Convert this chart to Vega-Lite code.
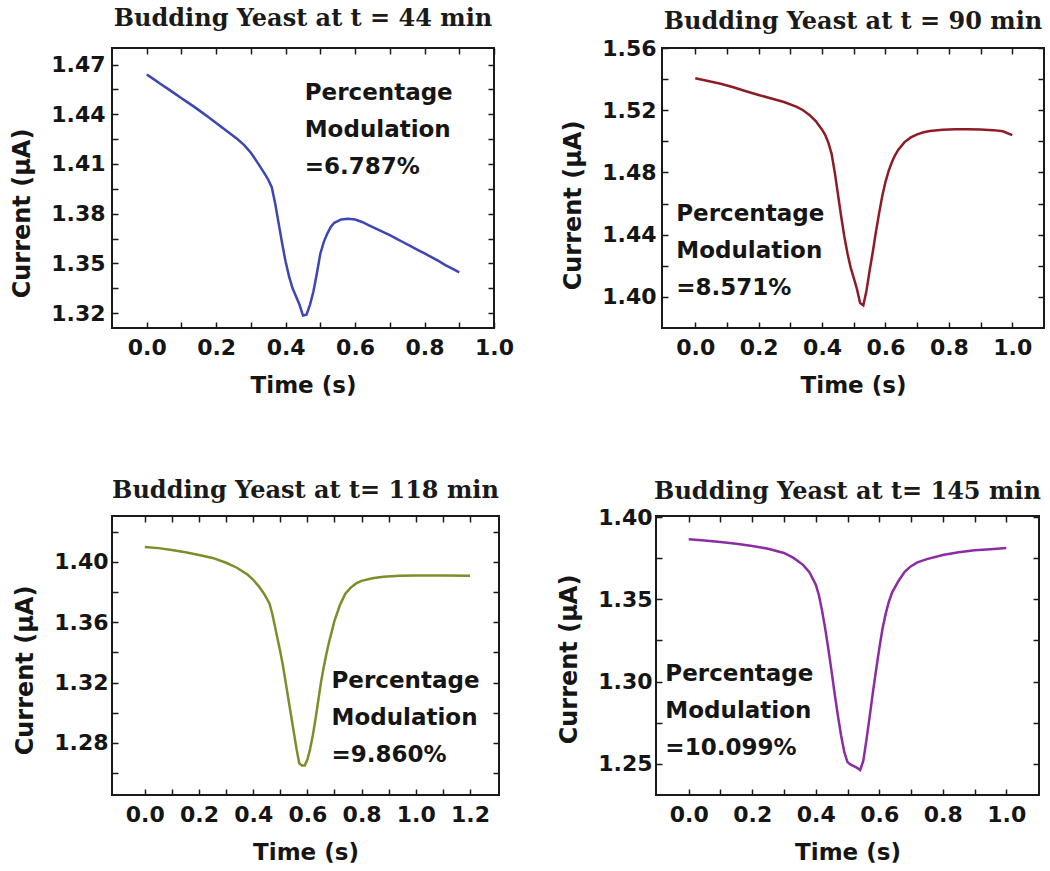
{
  "$schema": "https://vega.github.io/schema/vega-lite/v6.json",
  "background": "white",
  "padding": {"left": 9, "top": 6, "right": 5, "bottom": 5},
  "config": {
    "view": {"stroke": "#1a1a1a", "strokeWidth": 2},
    "axis": {
      "domain": false, "grid": false,
      "labelFont": "DejaVu Sans", "labelFontSize": 22, "labelFontWeight": "bold", "labelColor": "#151515",
      "titleFont": "DejaVu Sans", "titleFontSize": 24, "titleFontWeight": "bold", "titleColor": "#151515",
      "tickColor": "#1a1a1a", "tickWidth": 1.5, "tickSize": -6,
      "labelOverlap": false, "labelFlush": false
    },
    "title": {"font": "DejaVu Serif", "fontSize": 24, "fontWeight": "bold", "color": "#1a1a1a", "anchor": "middle", "frame": "group"},
    "text": {"font": "DejaVu Sans", "fontSize": 23, "fontWeight": "bold", "color": "#151515", "align": "left", "baseline": "alphabetic", "lineBreak": "\n", "lineHeight": 37}
  },
  "datasets": {
    "p44": [
      {"t":0,"i":1.4640},{"t":0.02,"i":1.4612},{"t":0.04,"i":1.4583},{"t":0.06,"i":1.4555},{"t":0.08,"i":1.4526},{"t":0.10,"i":1.4497},{"t":0.12,"i":1.4469},{"t":0.14,"i":1.4440},{"t":0.16,"i":1.4410},{"t":0.18,"i":1.4379},{"t":0.20,"i":1.4347},{"t":0.22,"i":1.4315},{"t":0.24,"i":1.4284},{"t":0.26,"i":1.4252},{"t":0.28,"i":1.4215},{"t":0.30,"i":1.4168},{"t":0.32,"i":1.4105},{"t":0.34,"i":1.4040},{"t":0.35,"i":1.4005},{"t":0.36,"i":1.3960},{"t":0.37,"i":1.3860},{"t":0.38,"i":1.3740},{"t":0.39,"i":1.3620},{"t":0.40,"i":1.3510},{"t":0.41,"i":1.3420},{"t":0.42,"i":1.3350},{"t":0.43,"i":1.3300},{"t":0.44,"i":1.3250},{"t":0.45,"i":1.3185},{"t":0.46,"i":1.3190},{"t":0.47,"i":1.3250},{"t":0.48,"i":1.3330},{"t":0.49,"i":1.3440},{"t":0.50,"i":1.3560},{"t":0.51,"i":1.3630},{"t":0.52,"i":1.3680},{"t":0.53,"i":1.3720},{"t":0.54,"i":1.3745},{"t":0.56,"i":1.3765},{"t":0.58,"i":1.3770},{"t":0.60,"i":1.3765},{"t":0.62,"i":1.3750},{"t":0.64,"i":1.3730},{"t":0.66,"i":1.3710},{"t":0.68,"i":1.3690},{"t":0.70,"i":1.3670},{"t":0.72,"i":1.3648},{"t":0.74,"i":1.3626},{"t":0.76,"i":1.3604},{"t":0.78,"i":1.3582},{"t":0.80,"i":1.3560},{"t":0.82,"i":1.3538},{"t":0.84,"i":1.3515},{"t":0.86,"i":1.3490},{"t":0.88,"i":1.3468},{"t":0.90,"i":1.3446}
    ],
    "p90": [
      {"t":0,"i":1.5405},{"t":0.04,"i":1.5388},{"t":0.08,"i":1.5370},{"t":0.12,"i":1.5348},{"t":0.16,"i":1.5322},{"t":0.20,"i":1.5298},{"t":0.24,"i":1.5275},{"t":0.28,"i":1.5253},{"t":0.32,"i":1.5222},{"t":0.34,"i":1.5200},{"t":0.36,"i":1.5170},{"t":0.38,"i":1.5130},{"t":0.40,"i":1.5075},{"t":0.41,"i":1.5040},{"t":0.42,"i":1.4990},{"t":0.43,"i":1.4920},{"t":0.44,"i":1.4800},{"t":0.45,"i":1.4660},{"t":0.46,"i":1.4520},{"t":0.47,"i":1.4390},{"t":0.48,"i":1.4280},{"t":0.49,"i":1.4190},{"t":0.50,"i":1.4120},{"t":0.51,"i":1.4050},{"t":0.52,"i":1.3960},{"t":0.53,"i":1.3945},{"t":0.54,"i":1.4040},{"t":0.55,"i":1.4170},{"t":0.56,"i":1.4290},{"t":0.57,"i":1.4420},{"t":0.58,"i":1.4540},{"t":0.59,"i":1.4650},{"t":0.60,"i":1.4740},{"t":0.61,"i":1.4810},{"t":0.62,"i":1.4865},{"t":0.63,"i":1.4910},{"t":0.64,"i":1.4945},{"t":0.66,"i":1.4995},{"t":0.68,"i":1.5025},{"t":0.70,"i":1.5045},{"t":0.72,"i":1.5058},{"t":0.74,"i":1.5067},{"t":0.78,"i":1.5075},{"t":0.82,"i":1.5078},{"t":0.86,"i":1.5077},{"t":0.90,"i":1.5076},{"t":0.94,"i":1.5072},{"t":0.97,"i":1.5065},{"t":1.00,"i":1.5040}
    ],
    "p118": [
      {"t":0,"i":1.4100},{"t":0.05,"i":1.4092},{"t":0.10,"i":1.4080},{"t":0.15,"i":1.4065},{"t":0.20,"i":1.4047},{"t":0.25,"i":1.4027},{"t":0.30,"i":1.3995},{"t":0.34,"i":1.3962},{"t":0.38,"i":1.3915},{"t":0.40,"i":1.3882},{"t":0.42,"i":1.3840},{"t":0.44,"i":1.3790},{"t":0.46,"i":1.3725},{"t":0.47,"i":1.3660},{"t":0.48,"i":1.3575},{"t":0.49,"i":1.3490},{"t":0.50,"i":1.3405},{"t":0.51,"i":1.3310},{"t":0.52,"i":1.3200},{"t":0.53,"i":1.3090},{"t":0.54,"i":1.2980},{"t":0.55,"i":1.2870},{"t":0.56,"i":1.2760},{"t":0.57,"i":1.2665},{"t":0.58,"i":1.2650},{"t":0.59,"i":1.2650},{"t":0.60,"i":1.2690},{"t":0.61,"i":1.2760},{"t":0.62,"i":1.2850},{"t":0.63,"i":1.2960},{"t":0.64,"i":1.3080},{"t":0.65,"i":1.3200},{"t":0.66,"i":1.3300},{"t":0.67,"i":1.3390},{"t":0.68,"i":1.3470},{"t":0.69,"i":1.3540},{"t":0.70,"i":1.3610},{"t":0.72,"i":1.3715},{"t":0.74,"i":1.3790},{"t":0.76,"i":1.3830},{"t":0.78,"i":1.3858},{"t":0.80,"i":1.3875},{"t":0.84,"i":1.3892},{"t":0.88,"i":1.3902},{"t":0.94,"i":1.3908},{"t":1.00,"i":1.3910},{"t":1.10,"i":1.3910},{"t":1.20,"i":1.3908}
    ],
    "p145": [
      {"t":0,"i":1.3865},{"t":0.05,"i":1.3858},{"t":0.10,"i":1.3849},{"t":0.15,"i":1.3838},{"t":0.20,"i":1.3825},{"t":0.25,"i":1.3808},{"t":0.30,"i":1.3782},{"t":0.33,"i":1.3752},{"t":0.36,"i":1.3710},{"t":0.38,"i":1.3665},{"t":0.40,"i":1.3590},{"t":0.41,"i":1.3525},{"t":0.42,"i":1.3430},{"t":0.43,"i":1.3320},{"t":0.44,"i":1.3195},{"t":0.45,"i":1.3060},{"t":0.46,"i":1.2920},{"t":0.47,"i":1.2790},{"t":0.48,"i":1.2670},{"t":0.49,"i":1.2570},{"t":0.50,"i":1.2510},{"t":0.51,"i":1.2495},{"t":0.52,"i":1.2485},{"t":0.53,"i":1.2475},{"t":0.54,"i":1.2462},{"t":0.55,"i":1.2520},{"t":0.56,"i":1.2650},{"t":0.57,"i":1.2790},{"t":0.58,"i":1.2935},{"t":0.59,"i":1.3070},{"t":0.60,"i":1.3200},{"t":0.61,"i":1.3320},{"t":0.62,"i":1.3410},{"t":0.63,"i":1.3484},{"t":0.64,"i":1.3540},{"t":0.66,"i":1.3610},{"t":0.68,"i":1.3668},{"t":0.70,"i":1.3702},{"t":0.72,"i":1.3725},{"t":0.75,"i":1.3745},{"t":0.80,"i":1.3770},{"t":0.85,"i":1.3787},{"t":0.90,"i":1.3798},{"t":0.95,"i":1.3805},{"t":1.00,"i":1.3812}
    ]
  },
  "concat": [
    {
      "hconcat": [
        {
          "width": 382, "height": 280,
          "title": {"text": "Budding Yeast at t = 44 min", "offset": 16},
          "resolve": {"axis": {"x": "independent", "y": "independent"}},
          "layer": [
            {
              "data": {"name": "p44"},
              "mark": {"type": "line", "color": "#3c46b4", "strokeWidth": 2.5},
              "encoding": {
                "x": {"field": "t", "type": "quantitative", "scale": {"domain": [-0.1, 1.0], "nice": false, "zero": false},
                  "axis": {"orient": "bottom", "values": [0,0.1,0.2,0.3,0.4,0.5,0.6,0.7,0.8,0.9,1.0], "labelExpr": "abs(datum.value*5-round(datum.value*5))<0.001 ? format(datum.value,'.1f') : ''", "title": "Time (s)", "titleFontSize": 23, "labelPadding": 15, "titlePadding": 16,
                    "encode": {"ticks": {"y2": {"value": {"expr": "abs(datum.value*5-round(datum.value*5))<0.001 ? -6 : -3"}}}}}},
                "y": {"field": "i", "type": "quantitative", "scale": {"domain": [1.311, 1.48], "nice": false, "zero": false},
                  "axis": {"orient": "left", "values": [1.32,1.335,1.35,1.365,1.38,1.395,1.41,1.425,1.44,1.455,1.47], "labelExpr": "abs(datum.value/0.03-round(datum.value/0.03))<0.01 ? format(datum.value,'.2f') : ''", "title": "Current (μA)", "titleY": 165, "labelPadding": 13, "titlePadding": 16,
                    "encode": {"ticks": {"x2": {"value": {"expr": "abs(datum.value/0.03-round(datum.value/0.03))<0.01 ? 6 : 3"}}}}}}
              }
            },
            {
              "data": {"values": [{"note": "Percentage\nModulation\n=6.787%"}]},
              "mark": {"type": "text"},
              "encoding": {
                "x": {"datum": 0.455, "type": "quantitative",
                  "axis": {"orient": "top", "values": [0,0.1,0.2,0.3,0.4,0.5,0.6,0.7,0.8,0.9,1.0], "labels": false, "title": null,
                    "encode": {"ticks": {"y2": {"value": {"expr": "abs(datum.value*5-round(datum.value*5))<0.001 ? 6 : 3"}}}}}},
                "y": {"datum": 1.4484, "type": "quantitative",
                  "axis": {"orient": "right", "values": [1.32,1.335,1.35,1.365,1.38,1.395,1.41,1.425,1.44,1.455,1.47], "labels": false, "title": null,
                    "encode": {"ticks": {"x2": {"value": {"expr": "abs(datum.value/0.03-round(datum.value/0.03))<0.01 ? -6 : -3"}}}}}},
                "text": {"field": "note"}
              }
            }
          ]
        },
        {
          "width": 382, "height": 280,
          "title": {"text": "Budding Yeast at t = 90 min", "offset": 3},
          "resolve": {"axis": {"x": "independent", "y": "independent"}},
          "layer": [
            {
              "data": {"name": "p90"},
              "mark": {"type": "line", "color": "#8e1c26", "strokeWidth": 2.5},
              "encoding": {
                "x": {"field": "t", "type": "quantitative", "scale": {"domain": [-0.105, 1.1], "nice": false, "zero": false},
                  "axis": {"orient": "bottom", "values": [0,0.1,0.2,0.3,0.4,0.5,0.6,0.7,0.8,0.9,1.0], "labelExpr": "abs(datum.value*5-round(datum.value*5))<0.001 ? format(datum.value,'.1f') : ''", "title": "Time (s)", "titleFontSize": 23, "labelPadding": 15, "titlePadding": 16,
                    "encode": {"ticks": {"y2": {"value": {"expr": "abs(datum.value*5-round(datum.value*5))<0.001 ? -6 : -3"}}}}}},
                "y": {"field": "i", "type": "quantitative", "scale": {"domain": [1.38, 1.56], "nice": false, "zero": false},
                  "axis": {"orient": "left", "values": [1.40,1.42,1.44,1.46,1.48,1.50,1.52,1.54,1.56], "labelExpr": "abs(datum.value/0.04-round(datum.value/0.04))<0.01 ? format(datum.value,'.2f') : ''", "title": "Current (μA)", "titleY": 157, "labelPadding": 12, "titlePadding": 16,
                    "encode": {"ticks": {"x2": {"value": {"expr": "abs(datum.value/0.04-round(datum.value/0.04))<0.01 ? 6 : 3"}}}}}}
              }
            },
            {
              "data": {"values": [{"note": "Percentage\nModulation\n=8.571%"}]},
              "mark": {"type": "text"},
              "encoding": {
                "x": {"datum": -0.06, "type": "quantitative",
                  "axis": {"orient": "top", "values": [0,0.1,0.2,0.3,0.4,0.5,0.6,0.7,0.8,0.9,1.0], "labels": false, "title": null,
                    "encode": {"ticks": {"y2": {"value": {"expr": "abs(datum.value*5-round(datum.value*5))<0.001 ? 6 : 3"}}}}}},
                "y": {"datum": 1.4489, "type": "quantitative",
                  "axis": {"orient": "right", "values": [1.40,1.42,1.44,1.46,1.48,1.50,1.52,1.54,1.56], "labels": false, "title": null,
                    "encode": {"ticks": {"x2": {"value": {"expr": "abs(datum.value/0.04-round(datum.value/0.04))<0.01 ? -6 : -3"}}}}}},
                "text": {"field": "note"}
              }
            }
          ]
        }
      ],
      "spacing": 168,
      "bounds": "flush"
    },
    {
      "hconcat": [
        {
          "width": 387, "height": 279,
          "title": {"text": "Budding Yeast at t= 118 min", "offset": 12},
          "resolve": {"axis": {"x": "independent", "y": "independent"}},
          "layer": [
            {
              "data": {"name": "p118"},
              "mark": {"type": "line", "color": "#7f8c2a", "strokeWidth": 2.5},
              "encoding": {
                "x": {"field": "t", "type": "quantitative", "scale": {"domain": [-0.121, 1.307], "nice": false, "zero": false},
                  "axis": {"orient": "bottom", "values": [0,0.1,0.2,0.3,0.4,0.5,0.6,0.7,0.8,0.9,1.0,1.1,1.2], "labelExpr": "abs(datum.value*5-round(datum.value*5))<0.001 ? format(datum.value,'.1f') : ''", "title": "Time (s)", "titleFontSize": 23, "labelPadding": 15, "titlePadding": 16,
                    "encode": {"ticks": {"y2": {"value": {"expr": "abs(datum.value*5-round(datum.value*5))<0.001 ? -6 : -3"}}}}}},
                "y": {"field": "i", "type": "quantitative", "scale": {"domain": [1.2455, 1.4305], "nice": false, "zero": false},
                  "axis": {"orient": "left", "values": [1.26,1.28,1.30,1.32,1.34,1.36,1.38,1.40,1.42], "labelExpr": "abs(datum.value/0.04-round(datum.value/0.04))<0.01 ? format(datum.value,'.2f') : ''", "title": "Current (μA)", "titleY": 154, "labelPadding": 10, "titlePadding": 16,
                    "encode": {"ticks": {"x2": {"value": {"expr": "abs(datum.value/0.04-round(datum.value/0.04))<0.01 ? 6 : 3"}}}}}}
              }
            },
            {
              "data": {"values": [{"note": "Percentage\nModulation\n=9.860%"}]},
              "mark": {"type": "text"},
              "encoding": {
                "x": {"datum": 0.689, "type": "quantitative",
                  "axis": {"orient": "top", "values": [0,0.1,0.2,0.3,0.4,0.5,0.6,0.7,0.8,0.9,1.0,1.1,1.2], "labels": false, "title": null,
                    "encode": {"ticks": {"y2": {"value": {"expr": "abs(datum.value*5-round(datum.value*5))<0.001 ? 6 : 3"}}}}}},
                "y": {"datum": 1.3166, "type": "quantitative",
                  "axis": {"orient": "right", "values": [1.26,1.28,1.30,1.32,1.34,1.36,1.38,1.40,1.42], "labels": false, "title": null,
                    "encode": {"ticks": {"x2": {"value": {"expr": "abs(datum.value/0.04-round(datum.value/0.04))<0.01 ? -6 : -3"}}}}}},
                "text": {"field": "note"}
              }
            }
          ]
        },
        {
          "width": 383, "height": 279,
          "title": {"text": "Budding Yeast at t= 145 min", "offset": 2},
          "resolve": {"axis": {"x": "independent", "y": "independent"}},
          "layer": [
            {
              "data": {"name": "p145"},
              "mark": {"type": "line", "color": "#8c2ca2", "strokeWidth": 2.5},
              "encoding": {
                "x": {"field": "t", "type": "quantitative", "scale": {"domain": [-0.103, 1.103], "nice": false, "zero": false},
                  "axis": {"orient": "bottom", "values": [0,0.1,0.2,0.3,0.4,0.5,0.6,0.7,0.8,0.9,1.0], "labelExpr": "abs(datum.value*5-round(datum.value*5))<0.001 ? format(datum.value,'.1f') : ''", "title": "Time (s)", "titleFontSize": 23, "labelPadding": 15, "titlePadding": 16,
                    "encode": {"ticks": {"y2": {"value": {"expr": "abs(datum.value*5-round(datum.value*5))<0.001 ? -6 : -3"}}}}}},
                "y": {"field": "i", "type": "quantitative", "scale": {"domain": [1.231, 1.4007], "nice": false, "zero": false},
                  "axis": {"orient": "left", "values": [1.25,1.275,1.30,1.325,1.35,1.375,1.40], "labelExpr": "abs(datum.value/0.05-round(datum.value/0.05))<0.01 ? format(datum.value,'.2f') : ''", "title": "Current (μA)", "titleY": 143, "labelPadding": 10, "titlePadding": 16,
                    "encode": {"ticks": {"x2": {"value": {"expr": "abs(datum.value/0.05-round(datum.value/0.05))<0.01 ? 6 : 3"}}}}}}
              }
            },
            {
              "data": {"values": [{"note": "Percentage\nModulation\n=10.099%"}]},
              "mark": {"type": "text"},
              "encoding": {
                "x": {"datum": -0.0735, "type": "quantitative",
                  "axis": {"orient": "top", "values": [0,0.1,0.2,0.3,0.4,0.5,0.6,0.7,0.8,0.9,1.0], "labels": false, "title": null,
                    "encode": {"ticks": {"y2": {"value": {"expr": "abs(datum.value*5-round(datum.value*5))<0.001 ? 6 : 3"}}}}}},
                "y": {"datum": 1.3005, "type": "quantitative",
                  "axis": {"orient": "right", "values": [1.25,1.275,1.30,1.325,1.35,1.375,1.40], "labels": false, "title": null,
                    "encode": {"ticks": {"x2": {"value": {"expr": "abs(datum.value/0.05-round(datum.value/0.05))<0.01 ? -6 : -3"}}}}}},
                "text": {"field": "note"}
              }
            }
          ]
        }
      ],
      "spacing": 157,
      "bounds": "flush"
    }
  ],
  "columns": 1,
  "align": "none",
  "spacing": 80
}
